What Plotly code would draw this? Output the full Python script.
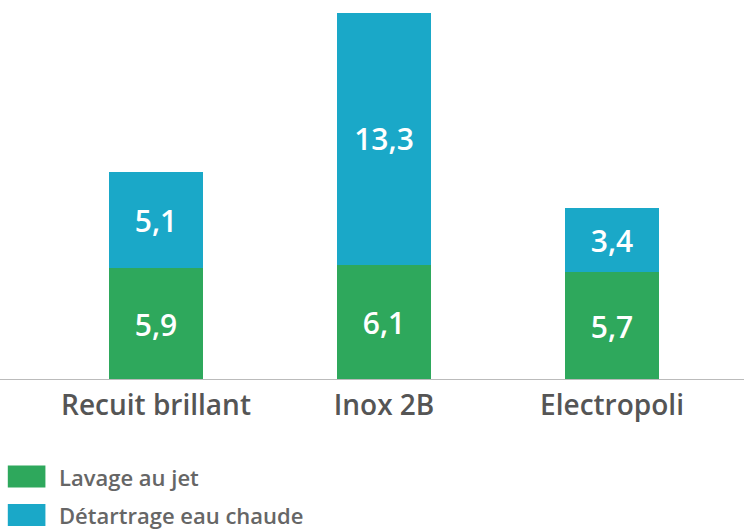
import plotly.graph_objects as go

categories = ["Recuit brillant", "Inox 2B", "Electropoli"]
lavage = [5.9, 6.1, 5.7]
detartrage = [5.1, 13.3, 3.4]
series_names = ["Lavage au jet", "Détartrage eau chaude"]
colors = ["#2ea85c", "#1aa8c8"]

FONT = "Open Sans"

fig = go.Figure()
for name, vals, col in zip(series_names, [lavage, detartrage], colors):
    fig.add_trace(go.Bar(
        x=categories, y=vals, name=name,
        marker=dict(color=col, line=dict(width=0)),
        texttemplate="%{y:.1f}", textposition="inside",
        insidetextanchor="middle",
        textfont=dict(family=FONT, size=30, color="white", weight=600),
        showlegend=False,
    ))

fig.update_layout(
    barmode="stack",
    bargap=0.59,
    separators=", ",
    width=744, height=531,
    margin=dict(l=42, r=18, t=13, b=151),
    paper_bgcolor="white", plot_bgcolor="white",
    xaxis=dict(showgrid=False, showline=False, ticks="",
               tickfont=dict(family=FONT, size=28, color="#555555", weight=600),
               ticklabelstandoff=6),
    yaxis=dict(range=[0, 19.4], visible=False, showgrid=False),
)

# baseline
fig.add_shape(type="line", xref="paper", yref="y", x0=-0.07, x1=1.03, y0=0, y1=0,
              line=dict(color="#bbbbbb", width=2))

# manual legend
legend_y = [-0.263, -0.368]
for name, col, yy in zip(series_names, colors, legend_y):
    fig.add_shape(type="rect", xref="paper", yref="paper",
                  x0=-0.05, x1=0.005, y0=yy - 0.03, y1=yy + 0.03,
                  fillcolor=col, line=dict(width=0))
    fig.add_annotation(xref="paper", yref="paper", x=0.022, y=yy, text=name,
                       showarrow=False, xanchor="left", yanchor="middle",
                       font=dict(family=FONT, size=22, color="#666666", weight=600))

fig.write_html("out.html")
